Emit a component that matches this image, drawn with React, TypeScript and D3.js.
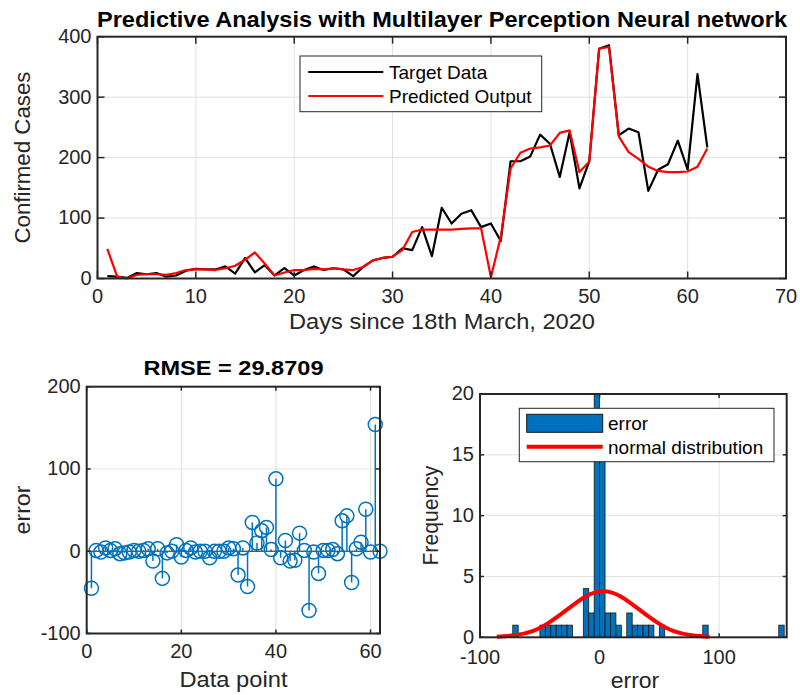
import * as d3 from 'd3'

const FONT = '"Liberation Sans", Arial, Helvetica, sans-serif'
const AXIS_COLOR = '#262626'
const GRID_COLOR = '#e2e2e2'
const BLUE = '#0072bd'

// confirmed cases, day 1..62
const targetData = [
  4, 3, 1, 9, 7, 9, 3, 5, 13, 16, 15, 15, 20, 8, 34, 10, 22, 5, 17, 5,
  14, 20, 14, 17, 15, 4, 19, 30, 34, 36, 50, 47, 85, 37, 117, 91, 107, 113, 85, 91,
  62, 194, 194, 202, 238, 223, 168, 242, 149, 194, 380, 386, 237, 248, 242, 145, 180, 189, 228, 180,
  338, 217,
]
const predictedOutput = [
  49, 3, 0, 6, 7, 7, 6, 9, 14, 15, 15, 14, 17, 21, 31, 43, 25, 5, 10, 14,
  14, 16, 15, 17, 15, 14, 19, 30, 34, 36, 47, 77, 81, 81, 81, 81, 82, 83, 83, 2,
  69, 182, 208, 215, 217, 220, 241, 245, 176, 193, 380, 383, 235, 209, 198, 185, 178, 176, 176, 177,
  185, 215,
]
const dayTicks = [0, 10, 20, 30, 40, 50, 60, 70]
const caseTicks = [0, 100, 200, 300, 400]

// error per data point (stem plot)
const stemError = [
  -45, 1, -1, 4, 1, 3, -3, -2, -1, 1, 0, 1, 3, -12, 3, -33, -2, 0, 8, -7,
  1, 4, -1, 0, 0, -8, 0, 0, 0, 4, 3, -29, 4, -43, 35, 10, 25, 29, 2, 88,
  -8, 13, -12, -11, 22, 1, -72, -1, -27, 1, 1, 2, -3, 37, 43, -38, 3, 11, 51, -1,
  154, 0,
]
const pointTicks = [0, 20, 40, 60]
const errorTicks = [-100, 0, 100, 200]

// histogram of the error, 50 bins
const histCounts = [
  1, 0, 0, 0, 0, 1, 1, 1, 1, 1, 1, 0, 0, 4, 2, 20, 15, 2, 2, 1,
  0, 2, 1, 1, 1, 1, 0, 1, 0, 0, 0, 0, 0, 0, 0, 1, 0, 0, 0, 0,
  0, 0, 0, 0, 0, 0, 0, 0, 0, 1,
]
const histStart = -72.6
const histBinWidth = 4.54
const normalX = [-86, -71, -56, -42, -27, -12, 3, 18, 33, 48, 62, 77, 92]
const normalY = [0.04, 0.17, 0.51, 1.23, 2.29, 3.34, 3.78, 3.34, 2.29, 1.23, 0.51, 0.17, 0.04]
const binTicks = [-100, 0, 100]
const freqTicks = [0, 5, 10, 15, 20]

function Grid({ x, y, xTicks, yTicks }) {
  const [x0, x1] = x.range()
  const [y0, y1] = y.range()
  const xd = x.domain(), yd = y.domain()
  return (
    <g stroke={GRID_COLOR} strokeWidth={1}>
      {xTicks.filter(t => t > xd[0] && t < xd[1]).map(t =>
        <line key={'gx' + t} x1={x(t)} x2={x(t)} y1={y0} y2={y1} />)}
      {yTicks.filter(t => t > yd[0] && t < yd[1]).map(t =>
        <line key={'gy' + t} x1={x0} x2={x1} y1={y(t)} y2={y(t)} />)}
    </g>
  )
}

function Frame({ x, y, xTicks, yTicks, tick, xLabelGap = 24 }) {
  const [x0, x1] = x.range()
  const [y0, y1] = y.range()
  return (
    <g>
      <g stroke={AXIS_COLOR} strokeWidth={1.5}>
        {xTicks.map(t => <g key={'tx' + t}>
          <line x1={x(t)} x2={x(t)} y1={y0} y2={y0 - tick} />
          <line x1={x(t)} x2={x(t)} y1={y1} y2={y1 + tick} />
        </g>)}
        {yTicks.map(t => <g key={'ty' + t}>
          <line x1={x0} x2={x0 + tick} y1={y(t)} y2={y(t)} />
          <line x1={x1} x2={x1 - tick} y1={y(t)} y2={y(t)} />
        </g>)}
      </g>
      <rect x={x0} y={y1} width={x1 - x0} height={y0 - y1} fill="none" stroke={AXIS_COLOR} strokeWidth={2} />
      <g fill={AXIS_COLOR} fontSize={20} fontFamily={FONT}>
        {xTicks.map(t => <text key={'lx' + t} x={x(t)} y={y0 + xLabelGap} textAnchor="middle">{t}</text>)}
        {yTicks.map(t => <text key={'ly' + t} x={x0 - 6} y={y(t)} dy="0.32em" textAnchor="end">{t}</text>)}
      </g>
    </g>
  )
}

function YLabel({ x, y, text, len }) {
  return <text transform={`translate(${x},${y}) rotate(-90)`} textAnchor="middle" fontSize={22}
    fontFamily={FONT} fill={AXIS_COLOR} textLength={len} lengthAdjust="spacingAndGlyphs">{text}</text>
}

export default function App() {
  // top panel
  const tx = d3.scaleLinear().domain([0, 70]).range([97.5, 786])
  const ty = d3.scaleLinear().domain([0, 400]).range([278.5, 36.7])
  const topLine = d3.line<number>().x((d, i) => tx(i + 1)).y(d => ty(d))

  // stem panel
  const sx = d3.scaleLinear().domain([0, 62]).range([86.7, 380])
  const sy = d3.scaleLinear().domain([-100, 200]).range([633.5, 386.7])

  // histogram panel
  const hx = d3.scaleLinear().domain([-100, 156.5]).range([480, 786.7])
  const hy = d3.scaleLinear().domain([0, 20]).range([637.3, 394])
  const normalLine = d3.line<number>().x((d, i) => hx(normalX[i])).y(d => hy(d)).curve(d3.curveNatural)

  return (
    <div style={{ position: 'absolute', left: 0, top: 0 }}>
      <svg width={800} height={695} style={{ display: 'block', background: '#fff' }}>
        {/* top: target vs predicted */}
        <Grid x={tx} y={ty} xTicks={dayTicks} yTicks={caseTicks} />
        <path d={topLine(targetData)} fill="none" stroke="#000" strokeWidth={2.2} strokeLinejoin="round" />
        <path d={topLine(predictedOutput)} fill="none" stroke="#ff0000" strokeWidth={2.2} strokeLinejoin="round" />
        <Frame x={tx} y={ty} xTicks={dayTicks} yTicks={caseTicks} tick={7} />
        <text x={442} y={27} textAnchor="middle" fontSize={22} fontWeight="bold" fontFamily={FONT}
          textLength={690} lengthAdjust="spacingAndGlyphs">Predictive Analysis with Multilayer Perception Neural network</text>
        <text x={442} y={329} textAnchor="middle" fontSize={22} fontFamily={FONT} fill={AXIS_COLOR}
          textLength={306} lengthAdjust="spacingAndGlyphs">Days since 18th March, 2020</text>
        <YLabel x={30} y={157.6} text="Confirmed Cases" len={172} />
        <g fontFamily={FONT} fontSize={19}>
          <rect x={300} y={56} width={241.7} height={55.7} fill="#fff" stroke={AXIS_COLOR} strokeWidth={1} />
          <line x1={308.3} x2={383.3} y1={72} y2={72} stroke="#000" strokeWidth={2.2} />
          <line x1={308.3} x2={383.3} y1={96} y2={96} stroke="#ff0000" strokeWidth={2.2} />
          <text x={389} y={79}>Target Data</text>
          <text x={389} y={103}>Predicted Output</text>
        </g>

        {/* bottom left: error stems */}
        <Grid x={sx} y={sy} xTicks={pointTicks} yTicks={errorTicks} />
        <line x1={86.7} x2={380} y1={sy(0)} y2={sy(0)} stroke={AXIS_COLOR} strokeWidth={1} />
        <g stroke={BLUE} strokeWidth={1.5} fill="none">
          {stemError.map((e, i) => <g key={i}>
            <line x1={sx(i + 1)} x2={sx(i + 1)} y1={sy(0)} y2={sy(e)} />
            <circle cx={sx(i + 1)} cy={sy(e)} r={7} />
          </g>)}
        </g>
        <Frame x={sx} y={sy} xTicks={pointTicks} yTicks={errorTicks} tick={4} />
        <text x={233.5} y={375} textAnchor="middle" fontSize={21} fontWeight="bold" fontFamily={FONT}
          textLength={180} lengthAdjust="spacingAndGlyphs">RMSE = 29.8709</text>
        <text x={233.5} y={687} textAnchor="middle" fontSize={22} fontFamily={FONT} fill={AXIS_COLOR}
          textLength={108} lengthAdjust="spacingAndGlyphs">Data point</text>
        <YLabel x={30} y={510} text="error" len={49} />

        {/* bottom right: histogram + normal fit */}
        <Grid x={hx} y={hy} xTicks={binTicks} yTicks={freqTicks} />
        <g fill={BLUE} stroke="#1a1a1a" strokeWidth={0.8}>
          {histCounts.map((c, i) => c > 0 && (
            <rect key={i} x={hx(histStart + i * histBinWidth)} y={hy(c)}
              width={hx(histStart + (i + 1) * histBinWidth) - hx(histStart + i * histBinWidth)}
              height={hy(0) - hy(c)} />
          ))}
        </g>
        <path d={normalLine(normalY)} fill="none" stroke="#ff0000" strokeWidth={4} />
        <Frame x={hx} y={hy} xTicks={binTicks} yTicks={freqTicks} tick={4} xLabelGap={26.5} />
        <text x={635} y={688} textAnchor="middle" fontSize={22} fontFamily={FONT} fill={AXIS_COLOR}
          textLength={48.6} lengthAdjust="spacingAndGlyphs">error</text>
        <YLabel x={438} y={515.6} text="Frequency" len={100} />
        <g fontFamily={FONT} fontSize={19}>
          <rect x={519.3} y={408.3} width={254.7} height={53.4} fill="#fff" stroke={AXIS_COLOR} strokeWidth={1} />
          <rect x={526.7} y={414.3} width={76} height={18} fill={BLUE} stroke="#1a1a1a" strokeWidth={1} />
          <line x1={526.7} x2={602.7} y1={446.7} y2={446.7} stroke="#ff0000" strokeWidth={4} />
          <text x={608} y={430}>error</text>
          <text x={608} y={454}>normal distribution</text>
        </g>
      </svg>
    </div>
  )
}
